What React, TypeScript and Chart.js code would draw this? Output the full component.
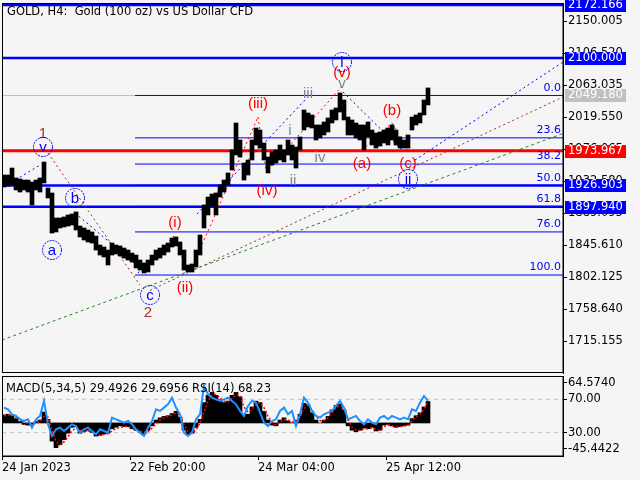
import React, { useEffect, useRef } from "react";
import { Chart, registerables } from "chart.js";

Chart.register(...registerables);

const FONT = "DejaVu Sans";
const WAVE_FONT = "Liberation Sans";
const BG = "#f5f5f5";

// H4 price path, one sample per 4 candles (index 0 = 24 Jan 2023)
const priceHigh = [
  1941.1, 1941.1, 1950.6, 1937.1, 1935.7, 1934.3, 1934.3, 1931.6, 1934.3, 1937.1,
  1958.8, 1923.5, 1916.7, 1882.7, 1882.7, 1884.1, 1886.8, 1888.1, 1890.9, 1871.8,
  1869.1, 1866.4, 1863.7, 1858.2, 1846.0, 1843.3, 1839.2, 1848.7, 1846.0, 1844.7,
  1841.9, 1839.2, 1835.1, 1832.4, 1825.6, 1821.6, 1825.6, 1832.4, 1839.2, 1841.9,
  1846.0, 1848.7, 1855.5, 1856.9, 1850.1, 1839.2, 1818.8, 1820.2, 1839.2, 1859.6,
  1900.4, 1911.2, 1915.3, 1916.7, 1927.5, 1934.3, 1943.9, 1975.1, 2011.8, 1988.7,
  1957.4, 1961.5, 1988.7, 2005.0, 2002.3, 1984.6, 1965.6, 1972.4, 1975.1, 1981.9,
  1975.1, 1988.7, 1981.9, 1979.2, 1992.8, 2029.5, 2025.4, 2022.7, 2009.1, 2009.1,
  2013.2, 2018.6, 2029.5, 2032.2, 2052.6, 2043.1, 2019.9, 2015.9, 2011.8, 2009.1,
  2009.1, 2013.2, 2002.3, 1998.2, 1999.6, 2002.3, 2005.0, 2009.1, 2002.3, 1992.8,
  1988.7, 1995.5, 2019.9, 2022.7, 2025.4, 2043.1, 2059.4,
];
const priceLow = [
  1924.8, 1926.2, 1927.5, 1920.8, 1918.0, 1920.8, 1918.0, 1900.4, 1920.8, 1918.0,
  1930.3, 1909.9, 1862.3, 1863.7, 1869.1, 1870.5, 1871.8, 1873.2, 1866.4, 1856.9,
  1852.8, 1850.1, 1848.7, 1839.2, 1832.4, 1829.7, 1818.8, 1832.4, 1833.8, 1831.1,
  1828.3, 1825.6, 1822.9, 1814.8, 1812.0, 1808.0, 1809.3, 1818.8, 1825.6, 1828.3,
  1832.4, 1836.5, 1843.3, 1844.7, 1832.4, 1812.0, 1809.3, 1809.3, 1816.1, 1832.4,
  1869.1, 1886.8, 1899.0, 1886.8, 1911.2, 1918.0, 1927.5, 1947.9, 1968.3, 1965.6,
  1934.3, 1941.1, 1961.5, 1981.9, 1977.8, 1961.5, 1943.9, 1954.7, 1957.4, 1961.5,
  1958.8, 1968.3, 1961.5, 1950.6, 1975.1, 2002.3, 2006.4, 2005.0, 1988.7, 1991.4,
  1995.5, 1999.6, 2011.8, 2015.9, 2026.7, 2015.9, 1995.5, 1995.5, 1991.4, 1988.7,
  1975.1, 1992.8, 1981.9, 1977.8, 1980.5, 1984.6, 1981.9, 1988.7, 1981.9, 1977.8,
  1977.8, 1977.8, 2002.3, 2009.1, 2011.8, 2022.7, 2036.3,
];

const macdMain = [
  11, 12, 10, 6, 2, -2, -3, -2, 2, 4,
  15, 5, -25, -34, -30, -23, -14, -6, -5, -14,
  -12, -10, -13, -18, -17, -15, -14, -8, -6, -4,
  -5, -5, -8, -10, -13, -15, -10, -4, 4, 7,
  9, 10, 13, 16, 8, -10, -16, -14, -6, 5,
  28, 38, 42, 38, 32, 28, 30, 38, 42, 36,
  12, 12, 22, 30, 28, 16, 4, -3, -4, 4,
  7, 3, 0, 4, 12, 27, 25, 14, 4, 0,
  4, 9, 18, 24, 26, 18, -4, -10, -12, -10,
  -7, -8, -6, -11, -10, -3, -2, -4, -6, -5,
  -4, -3, 6, 10, 14, 22, 29.4926,
];
const macdSignal = [
  10, 11, 11, 8, 5, 1, -1, -2, 0, 2,
  9, 8, -10, -25, -30, -26, -19, -11, -7, -10,
  -12, -11, -12, -15, -16, -16, -15, -11, -8, -6,
  -5, -5, -7, -9, -11, -13, -12, -7, -1, 4,
  7, 9, 11, 14, 11, -2, -12, -14, -10, 0,
  15, 30, 39, 39, 35, 30, 29, 34, 39, 38,
  22, 15, 18, 26, 28, 21, 9, 1, -3, 1,
  5, 4, 1, 2, 8, 20, 24, 18, 9, 3,
  3, 7, 14, 21, 24, 21, 5, -6, -10, -10,
  -8, -8, -7, -9, -10, -5, -3, -4, -5, -5,
  -4, -3, 3, 8, 12, 19, 29.6956,
];
const rsiValues = [
  60, 58, 52, 50, 46, 44, 46, 36, 46, 50,
  68, 40, 26, 34, 36, 32, 36, 40, 38, 30,
  34, 36, 32, 28, 34, 32, 30, 48, 46, 44,
  42, 44, 40, 34, 30, 26, 36, 44, 58, 56,
  60, 64, 72, 60, 52, 30, 26, 30, 46, 52,
  86, 76, 72, 70, 68, 70, 72, 68, 64, 56,
  50, 62, 68, 66, 54, 42, 38, 44, 46, 56,
  60, 52, 56, 38, 52, 72, 66, 56, 50, 48,
  52, 54, 56, 62, 68, 60, 46, 48, 50, 44,
  40, 46, 42, 40, 48, 50, 46, 50, 48, 46,
  48, 46, 58, 56, 66, 74, 68.23,
];

const xTickPos = [-0.5, 31.5, 63.5, 95.5];
const xTickLabels = ["24 Jan 2023", "22 Feb 20:00", "24 Mar 04:00", "25 Apr 12:00"];

const priceTicks = [2150.005, 2106.52, 2063.035, 2019.55, 1976.065, 1932.58, 1889.095, 1845.61, 1802.125, 1758.64, 1715.155];
const levelValues = [2172.166, 2100.0, 1973.967, 1926.903, 1897.94];
const levelKinds = ["blue", "blue", "red", "blue", "blue"];
const bidPrice = 2049.18;
const fibTop = 2049.2;
const fibBottom = 1805.2;
const fibRatios = [0, 23.6, 38.2, 50, 61.8, 76, 100];
const fibStartIdx = 32.75;

const waveTexts = ["1", "v", "b", "a", "c", "2", "(ii)", "(i)", "(iii)", "(iv)", "iii", "i", "ii", "iv", "v", "(v)", "i", "(b)", "(a)", "(c)", "ii"];
const waveIdx = [9.75, 9.75, 17.75, 12, 36.5, 36, 45.25, 42.75, 63.5, 65.75, 76, 71.5, 72.25, 79, 84.5, 84.5, 84.5, 97, 89.5, 101, 101];
const wavePrices = [1998.2, 1979.2, 1909.9, 1839.2, 1778.1, 1755.0, 1788.9, 1877.3, 2039.0, 1920.8, 2052.6, 2002.3, 1934.3, 1965.6, 2066.2, 2081.1, 2094.7, 2029.5, 1957.4, 1957.4, 1935.7];
const waveKinds = ["brown", "circle", "circle", "circle", "circle", "brown", "red", "red", "red", "red", "gray", "gray", "gray", "gray", "gray", "red", "circle", "red", "red", "red", "circle"];

// [startIndex, startPrice, endIndex, endPrice]
const trendSegments = [
  [-0.5, 1716.9, 139.75, 1997.5],
  [36.5, 1784.3, 139.75, 2047.1],
  [102.75, 1961.5, 139.75, 2094.7],
  [84.75, 2053.9, 99.5, 1975.1],
  [66, 1947.9, 84.75, 2063.4],
  [46.5, 1809.3, 63.5, 2019.9],
  [63.5, 2019.9, 65.5, 1947.9],
  [43, 1856.9, 45.5, 1812.0],
  [33.5, 1808.0, 42.5, 1858.2],
  [17.75, 1889.5, 34, 1814.8],
  [12.5, 1869.1, 17.75, 1889.5],
  [11, 1971.0, 34, 1791.6],
  [0.75, 1927.5, 9, 1954.7],
  [48.25, 1888.1, 75.75, 2045.8],
  [89.5, 1975.1, 97, 2011.8],
  [97, 2011.8, 101, 1975.1],
];
const trendKinds = ["green", "brown", "blue", "blue", "red", "red", "red", "red", "blue", "blue", "blue", "brown", "blue", "blue", "red", "red"];

const X_MIN = -0.5;
const X_MAX = 139.75;
const P_MIN = 1672.07;
const P_MAX = 2174.86;
const MACD_MIN = -45.4422;
const MACD_MAX = 64.574;
const RSI_MIN = 1.96;
const RSI_MAX = 97.96;
const subTicks = [89.6, 70, 30, 10.4];
const subTickLabels = ["64.5740", "70.00", "30.00", "-45.4422"];
const rsiLevels = [70, 30];

const COLORS: Record<string, string> = {
  blue: "#0000ff",
  red: "#ff0000",
  brown: "#a52a2a",
  green: "#228b22",
  gray: "#7b8597",
  circle: "#0000ff",
};

const TITLE = "GOLD, H4:  Gold (100 oz) vs US Dollar CFD";
const SUB_TITLE = `MACD(5,34,5) ${macdMain[macdMain.length - 1].toFixed(4)} ${macdSignal[macdSignal.length - 1].toFixed(4)} RSI(14) ${rsiValues[rsiValues.length - 1].toFixed(2)}`;

function noPad(s: any) {
  s.paddingTop = 0;
  s.paddingBottom = 0;
  s.paddingLeft = 0;
  s.paddingRight = 0;
}

const mainPlugin = {
  id: "mainDecor",
  beforeDraw(chart: any) {
    const ctx = chart.ctx;
    ctx.save();
    ctx.fillStyle = BG;
    ctx.fillRect(0, 0, chart.width, chart.height);
    ctx.restore();
  },
  afterDatasetsDraw(chart: any) {
    const { ctx, chartArea: a, scales } = chart;
    const x = scales.x;
    const y = scales.y;
    ctx.save();
    ctx.beginPath();
    ctx.rect(a.left, a.top, a.right - a.left, a.bottom - a.top);
    ctx.clip();
    ctx.font = `11px ${FONT}`;
    ctx.fillStyle = "#0000ff";
    ctx.textAlign = "right";
    ctx.textBaseline = "bottom";
    fibRatios.forEach((r) => {
      const p = fibTop - ((fibTop - fibBottom) * r) / 100;
      ctx.fillText(r.toFixed(1), a.right - 2, y.getPixelForValue(p) - 2);
    });
    ctx.textAlign = "center";
    ctx.textBaseline = "middle";
    waveTexts.forEach((t, i) => {
      const px = x.getPixelForValue(waveIdx[i]);
      const py = y.getPixelForValue(wavePrices[i]);
      const kind = waveKinds[i];
      ctx.font = `15px ${WAVE_FONT}`;
      ctx.fillStyle = COLORS[kind];
      if (kind === "circle") {
        ctx.strokeStyle = "#0000ff";
        ctx.lineWidth = 1;
        ctx.setLineDash([2, 1]);
        ctx.beginPath();
        ctx.arc(px, py, 9.5, 0, Math.PI * 2);
        ctx.stroke();
        ctx.setLineDash([]);
      }
      ctx.fillText(t, px, py + 1);
    });
    ctx.restore();
  },
  afterDraw(chart: any) {
    const { ctx, chartArea: a, scales } = chart;
    const y = scales.y;
    ctx.save();
    ctx.strokeStyle = "#000";
    ctx.lineWidth = 1;
    ctx.strokeRect(a.left + 0.5, a.top + 0.5, a.right - a.left - 0.5, a.bottom - a.top - 1);
    ctx.font = `11.5px ${FONT}`;
    ctx.fillStyle = "#000";
    ctx.textAlign = "left";
    ctx.textBaseline = "middle";
    ctx.fillText(TITLE, 7, 12);
    const boxes = levelValues.map((v, i) => ({ v, c: COLORS[levelKinds[i]] }));
    boxes.push({ v: bidPrice, c: "#c0c0c0" });
    boxes.forEach((b) => {
      const py = y.getPixelForValue(b.v);
      ctx.fillStyle = b.c;
      ctx.fillRect(a.right + 2, Math.round(py) - 6, 61, 13);
      ctx.fillStyle = "#ffffff";
      ctx.fillText(b.v.toFixed(3), a.right + 5, Math.round(py) + 0.5);
    });
    ctx.restore();
  },
};

const subPlugin = {
  id: "subDecor",
  beforeDraw(chart: any) {
    const ctx = chart.ctx;
    ctx.save();
    ctx.fillStyle = BG;
    ctx.fillRect(0, 0, chart.width, chart.height);
    ctx.restore();
  },
  afterDraw(chart: any) {
    const { ctx, chartArea: a } = chart;
    ctx.save();
    ctx.strokeStyle = "#000";
    ctx.lineWidth = 1;
    ctx.strokeRect(a.left + 0.5, a.top + 0.5, a.right - a.left - 0.5, a.bottom - a.top - 0.5);
    ctx.font = `11.5px ${FONT}`;
    ctx.fillStyle = "#000";
    ctx.textAlign = "left";
    ctx.textBaseline = "middle";
    ctx.fillText(SUB_TITLE, 6, 15);
    ctx.restore();
  },
};

function seg(x1: number, y1: number, x2: number, y2: number) {
  return [
    { x: x1, y: y1 },
    { x: x2, y: y2 },
  ];
}

function mainConfig(): any {
  const datasets: any[] = [];
  datasets.push({
    type: "bar",
    data: priceHigh.map((h, i) => ({ x: i, y: [priceLow[i], h] })),
    backgroundColor: "#000000",
    barThickness: 4,
    grouped: false,
    order: 0,
  });
  levelValues.forEach((v, i) => {
    datasets.push({
      type: "line",
      data: seg(X_MIN, v, X_MAX, v),
      borderColor: COLORS[levelKinds[i]],
      borderWidth: levelKinds[i] === "red" ? 3 : 2.5,
      pointRadius: 0,
      order: 3,
    });
  });
  datasets.push({
    type: "line",
    data: seg(X_MIN, bidPrice, fibStartIdx, bidPrice),
    borderColor: "#c0c0c0",
    borderWidth: 1,
    pointRadius: 0,
    order: 4,
  });
  fibRatios.forEach((r) => {
    const p = fibTop - ((fibTop - fibBottom) * r) / 100;
    datasets.push({
      type: "line",
      data: seg(fibStartIdx, p, X_MAX, p),
      borderColor: "#0000ff",
      borderWidth: 1,
      pointRadius: 0,
      order: 4,
    });
  });
  trendSegments.forEach((s, i) => {
    datasets.push({
      type: "line",
      data: seg(s[0], s[1], s[2], s[3]),
      borderColor: COLORS[trendKinds[i]],
      borderWidth: 1,
      borderDash: trendKinds[i] === "green" ? [3, 3] : [2, 3],
      pointRadius: 0,
      order: 2,
    });
  });
  return {
    type: "bar",
    data: { datasets },
    options: {
      responsive: false,
      animation: false,
      devicePixelRatio: 1,
      events: [],
      layout: { padding: { left: 2, top: 3, bottom: 3, right: 0 } },
      plugins: { legend: { display: false }, tooltip: { enabled: false } },
      scales: {
        x: { type: "linear", min: X_MIN, max: X_MAX, display: false, offset: false, grid: { offset: false } },
        y: {
          type: "linear",
          position: "right",
          min: P_MIN,
          max: P_MAX,
          afterFit: (s: any) => {
            s.width = 77;
            noPad(s);
          },
          afterBuildTicks: (s: any) => {
            s.ticks = priceTicks.map((v) => ({ value: v }));
          },
          ticks: {
            callback: (v: any) => Number(v).toFixed(3),
            font: { family: FONT, size: 11.5 },
            color: "#000",
            padding: 1,
            autoSkip: false,
          },
          grid: { drawOnChartArea: false, drawTicks: true, tickLength: 4, color: "#000" },
          border: { display: true, color: "#000" },
        },
      },
    },
    plugins: [mainPlugin],
  };
}

function subConfig(): any {
  const datasets: any[] = [
    {
      type: "line",
      data: rsiValues.map((v, i) => ({ x: i, y: v })),
      yAxisID: "rsi",
      borderColor: "#1e90ff",
      borderWidth: 2,
      pointRadius: 0,
      order: 0,
    },
    {
      type: "line",
      data: macdSignal.map((v, i) => ({ x: i, y: v })),
      yAxisID: "macd",
      borderColor: "#ff0000",
      borderWidth: 1.5,
      borderDash: [2, 2],
      pointRadius: 0,
      order: 1,
    },
    {
      type: "bar",
      data: macdMain.map((v, i) => ({ x: i, y: v })),
      yAxisID: "macd",
      backgroundColor: "#000000",
      barThickness: 4,
      grouped: false,
      order: 2,
    },
  ];
  rsiLevels.forEach((lv) => {
    datasets.push({
      type: "line",
      data: seg(X_MIN, lv, X_MAX, lv),
      yAxisID: "rsi",
      borderColor: "#c0c0c0",
      borderWidth: 1,
      borderDash: [4, 4],
      pointRadius: 0,
      order: 3,
    });
  });
  return {
    type: "bar",
    data: { datasets },
    options: {
      responsive: false,
      animation: false,
      devicePixelRatio: 1,
      events: [],
      layout: { padding: { left: 2, top: 2, bottom: 0, right: 0 } },
      plugins: { legend: { display: false }, tooltip: { enabled: false } },
      scales: {
        x: {
          type: "linear",
          position: "bottom",
          min: X_MIN,
          max: X_MAX,
          offset: false,
          afterBuildTicks: (s: any) => {
            s.ticks = xTickPos.map((v) => ({ value: v }));
          },
          afterFit: (s: any) => {
            s.height = 24;
            noPad(s);
          },
          ticks: {
            callback: (_v: any, i: number) => xTickLabels[i],
            align: "start",
            autoSkip: false,
            maxRotation: 0,
            minRotation: 0,
            font: { family: FONT, size: 11.5 },
            color: "#000",
            padding: 1,
          },
          grid: { drawOnChartArea: false, drawTicks: true, tickLength: 4, color: "#000", offset: false },
          border: { display: true, color: "#000" },
        },
        macd: { axis: "y", type: "linear", display: false, min: MACD_MIN, max: MACD_MAX },
        rsi: {
          axis: "y",
          type: "linear",
          position: "right",
          min: RSI_MIN,
          max: RSI_MAX,
          afterFit: (s: any) => {
            s.width = 77;
            noPad(s);
          },
          afterBuildTicks: (s: any) => {
            s.ticks = subTicks.map((v) => ({ value: v }));
          },
          ticks: {
            callback: (_v: any, i: number) => subTickLabels[i],
            font: { family: FONT, size: 11.5 },
            color: "#000",
            padding: 1,
            autoSkip: false,
          },
          grid: { drawOnChartArea: false, drawTicks: true, tickLength: 4, color: "#000" },
          border: { display: true, color: "#000" },
        },
      },
    },
    plugins: [subPlugin],
  };
}

export default function App() {
  const mainRef = useRef<HTMLCanvasElement>(null);
  const subRef = useRef<HTMLCanvasElement>(null);
  useEffect(() => {
    const c1 = new Chart(mainRef.current as HTMLCanvasElement, mainConfig());
    const c2 = new Chart(subRef.current as HTMLCanvasElement, subConfig());
    return () => {
      c1.destroy();
      c2.destroy();
    };
  }, []);
  return (
    <div style={{ position: "fixed", left: 0, top: 0, width: 640, height: 480, background: BG, overflow: "hidden" }}>
      <canvas ref={mainRef} width={640} height={376} style={{ position: "absolute", left: 0, top: 0, display: "block" }} />
      <canvas ref={subRef} width={640} height={106} style={{ position: "absolute", left: 0, top: 374, display: "block" }} />
    </div>
  );
}
